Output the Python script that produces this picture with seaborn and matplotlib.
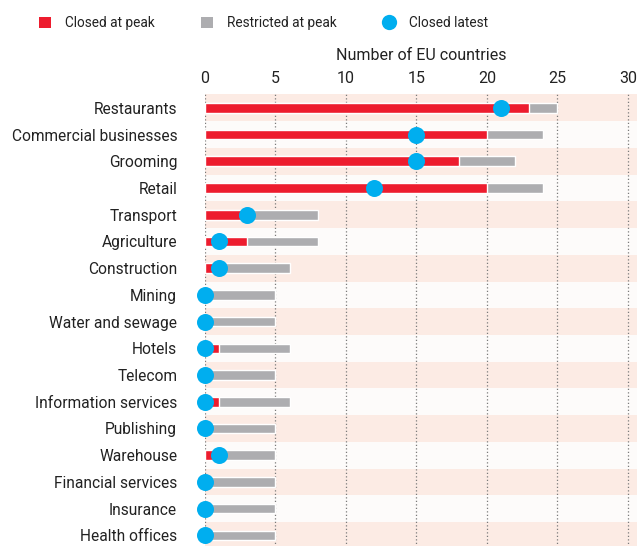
import matplotlib
matplotlib.use("Agg")
import matplotlib.pyplot as plt
import seaborn as sns
import pandas as pd
from matplotlib.lines import Line2D
from matplotlib.patches import Patch

# Data
sectors = ["Restaurants", "Commercial businesses", "Grooming", "Retail", "Transport",
           "Agriculture", "Construction", "Mining", "Water and sewage", "Hotels",
           "Telecom", "Information services", "Publishing", "Warehouse",
           "Financial services", "Insurance", "Health offices"]
closed_peak = [23, 20, 18, 20, 3, 3, 1, 0, 0, 1, 0, 1, 0, 1, 0, 0, 0]
restricted_peak = [2, 4, 4, 4, 5, 5, 5, 5, 5, 5, 5, 5, 5, 4, 5, 5, 5]
closed_latest = [21, 15, 15, 12, 3, 1, 1, 0, 0, 0, 0, 0, 0, 1, 0, 0, 0]

RED = "#ed1c2e"
GREY = "#adadb0"
BLUE = "#00aeef"

df = pd.DataFrame({
    "sector": sectors,
    "closed": closed_peak,
    "total": [c + r for c, r in zip(closed_peak, restricted_peak)],
    "latest": closed_latest,
})

sns.set_style("white")
plt.rcParams["font.family"] = ["Roboto", "DejaVu Sans"]

fig = plt.figure(figsize=(6.37, 5.46), dpi=100)
ax = fig.add_axes([205 / 637, -0.005, 1 - 205 / 637, 0.832])

# alternating row bands
for i in range(len(sectors)):
    ax.axhspan(i - 0.5, i + 0.5, color="#fcebe4" if i % 2 == 0 else "#fdfbfa", zorder=0, lw=0)

for v in range(0, 31, 5):
    ax.axvline(v, color="#7a7a7a", lw=0.9, ls=(0, (1, 1.8)), zorder=1)

sns.barplot(data=df, x="total", y="sector", color=GREY, width=0.36, ax=ax,
            saturation=1, zorder=2, orient="h")
sns.barplot(data=df, x="closed", y="sector", color=RED, width=0.36, ax=ax,
            saturation=1, zorder=3, orient="h")
sns.scatterplot(data=df, x="latest", y="sector", color=BLUE, s=150, ax=ax,
                zorder=4, linewidth=0, clip_on=False)

ax.set_xlim(0, 30.65)
ax.set_ylim(len(sectors) - 0.5, -0.5)
ax.xaxis.tick_top()
ax.xaxis.set_label_position("top")
ax.set_xticks(range(0, 31, 5))
ax.tick_params(axis="x", length=0, pad=6, labelsize=11.5, labelcolor="#222222")
ax.tick_params(axis="y", length=0, pad=20, labelsize=11.2, labelcolor="#222222")
ax.set_xlabel("Number of EU countries", fontsize=11.5, labelpad=8, color="#222222")
ax.set_ylabel("")
for s in ax.spines.values():
    s.set_visible(False)

handles = [
    Patch(facecolor=RED, edgecolor="none"),
    Patch(facecolor=GREY, edgecolor="none"),
    Line2D([], [], marker="o", ls="", color=BLUE, markersize=11, markeredgewidth=0),
]
fig.legend(handles, ["Closed at peak", "Restricted at peak", "Closed latest"],
           loc="center left", bbox_to_anchor=(0.042, 0.958), ncol=3, frameon=False,
           fontsize=9.8, handlelength=0.9, handleheight=0.9, columnspacing=3.4,
           handletextpad=1.0, labelcolor="#222222")

fig.savefig("out.png", dpi=100)
